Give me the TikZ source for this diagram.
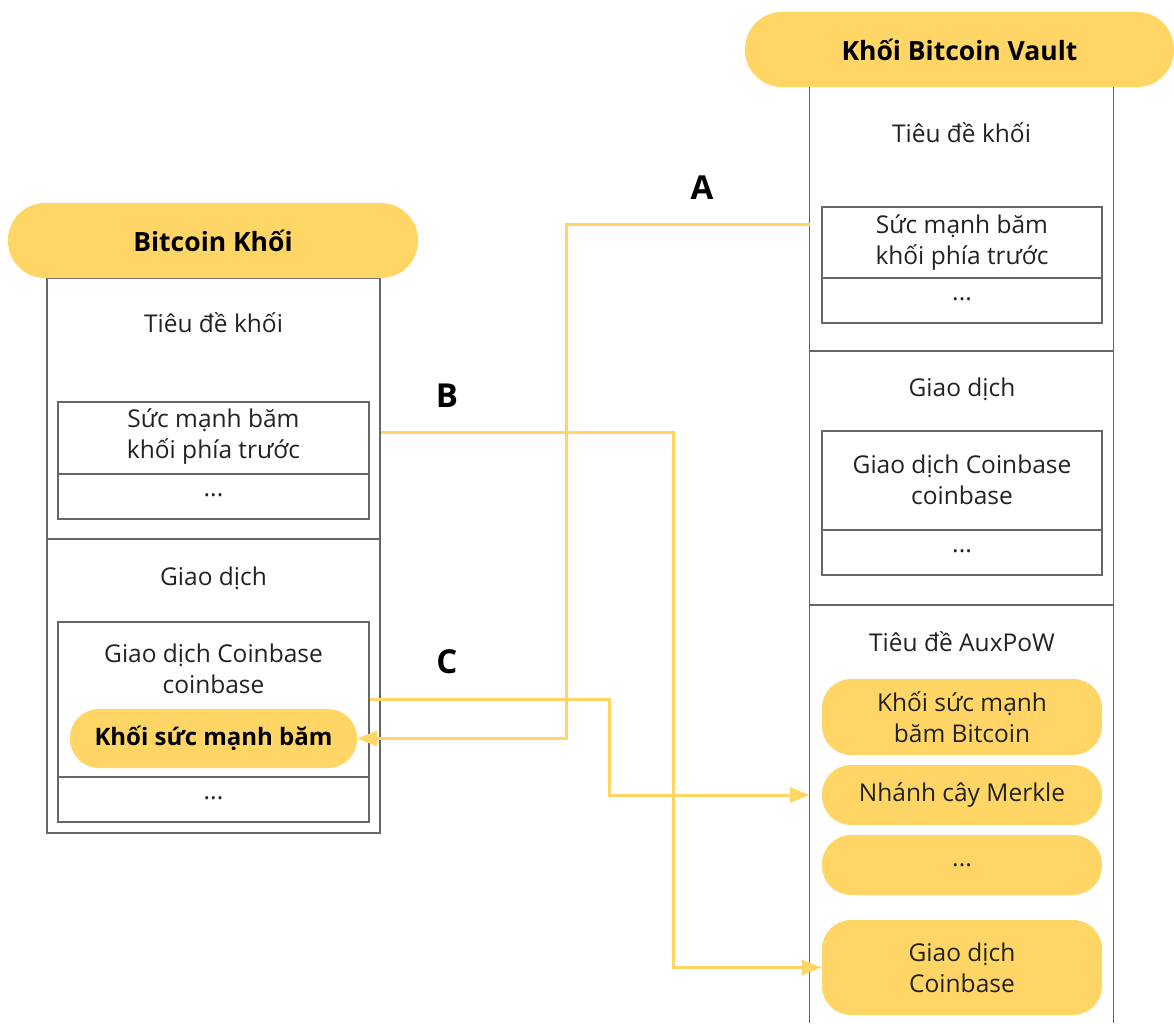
\documentclass[tikz,border=0pt]{standalone}
\usepackage{fontspec}
\setmainfont{Open Sans}
\usetikzlibrary{arrows.meta,calc}
\definecolor{gold}{HTML}{FFD666}
\definecolor{frame}{HTML}{666666}
\definecolor{txt}{HTML}{222222}
\begin{document}
\begin{tikzpicture}[x=1pt,y=1pt,
  titlepill/.style={fill=gold,rounded corners=37pt,inner sep=0pt,font=\fontsize{26.5}{30}\selectfont\bfseries,text=black},
  outerbox/.style={draw=frame,line width=1.2pt,inner sep=0pt},
  innerbox/.style={draw=frame,line width=1.2pt,inner sep=0pt},
  lbl/.style={font=\fontsize{24.5}{31}\selectfont,text=txt,align=center},
  pill/.style={fill=gold,rounded corners=29pt,inner sep=0pt,font=\fontsize{24.5}{31}\selectfont,text=txt,align=center},
  conn/.style={draw=gold,line width=3pt},
  tip/.style={-{Triangle[length=20pt,width=15pt]}},
  letter/.style={font=\fontsize{33}{36}\selectfont\bfseries,text=black}
]
\useasboundingbox (0,0) rectangle (1174,-1023);

% ---------- left block ----------
\node[outerbox,minimum width=333,minimum height=555] (lbody) at (213.5,-555.5) {};
\draw[draw=frame,line width=1.2pt] (lbody.west |- 0,-539) -- (lbody.east |- 0,-539);
\node[titlepill,minimum width=410,minimum height=75] (ltitle) at (213,-240.5) {Bitcoin Khối};
\node[lbl] (lhead) at (213.5,-323) {Tiêu đề khối};
\node[innerbox,minimum width=311,minimum height=117] (lprev) at (213.5,-460.5) {};
\draw[draw=frame,line width=1.2pt] (lprev.west |- 0,-474) -- (lprev.east |- 0,-474);
\node[lbl] (lprevtxt) at (213.5,-437) {Sức mạnh băm\\ khối phía trước};
\node[lbl] (lprevdots) at (213.5,-495) {...};
\node[lbl] (ltx) at (213.5,-578) {Giao dịch};
\node[innerbox,minimum width=311,minimum height=200] (lcb) at (213.5,-722) {};
\draw[draw=frame,line width=1.2pt] (lcb.west |- 0,-777) -- (lcb.east |- 0,-777);
\node[lbl] (lcbtxt) at (213.5,-669) {Giao dịch Coinbase\\coinbase};
\node[pill,minimum width=287,minimum height=59,font=\fontsize{24}{26}\selectfont\bfseries,text=black] (lhash) at (213.5,-738.5) {Khối sức mạnh băm};
\node[lbl] (lcbdots) at (213.5,-798) {...};

% ---------- right block ----------
\node[minimum width=303,minimum height=936,inner sep=0pt] (rbody) at (961.5,-555) {};
\draw[draw=frame,line width=1.2pt] (rbody.south west) -- (rbody.north west) -- (rbody.north east) -- (rbody.south east);
\draw[draw=frame,line width=1.2pt] (rbody.west |- 0,-351) -- (rbody.east |- 0,-351);
\draw[draw=frame,line width=1.2pt] (rbody.west |- 0,-605) -- (rbody.east |- 0,-605);
\node[titlepill,minimum width=429,minimum height=75] (rtitle) at (959.5,-49.5) {Khối Bitcoin Vault};
\node[lbl] (rhead) at (961.5,-133) {Tiêu đề khối};
\node[innerbox,minimum width=280,minimum height=116] (rprev) at (962,-265) {};
\draw[draw=frame,line width=1.2pt] (rprev.west |- 0,-278) -- (rprev.east |- 0,-278);
\node[lbl] (rprevtxt) at (962,-243) {Sức mạnh băm\\ khối phía trước};
\node[lbl] (rprevdots) at (962,-299) {...};
\node[lbl] (rtx) at (962,-389) {Giao dịch};
\node[innerbox,minimum width=280,minimum height=144] (rcb) at (962,-503) {};
\draw[draw=frame,line width=1.2pt] (rcb.west |- 0,-530) -- (rcb.east |- 0,-530);
\node[lbl] (rcbtxt) at (962,-480) {Giao dịch Coinbase\\coinbase};
\node[lbl] (rcbdots) at (962,-551) {...};
\node[lbl] (raux) at (962,-642) {Tiêu đề AuxPoW};
\node[pill,minimum width=280,minimum height=76] (rbtc) at (962,-717) {Khối sức mạnh\\băm Bitcoin};
\node[pill,minimum width=280,minimum height=60] (rmerkle) at (962,-795) {Nhánh cây Merkle};
\node[pill,minimum width=280,minimum height=60] (rdots) at (962,-865) {...};
\node[pill,minimum width=280,minimum height=95] (rcoin) at (962,-967.5) {Giao dịch\\Coinbase};

% ---------- connectors ----------
\draw[conn,tip] (rbody.west |- 0,-224) -- (566,-224) |- (lhash.east);
\draw[conn,tip] (lbody.east |- 0,-432) -- (673,-432) |- (rcoin.west);
\draw[conn,tip] (lcb.east |- 0,-699) -- (609,-699) |- (rbody.west |- rmerkle.west);

\node[letter] (la) at (702,-188) {A};
\node[letter] (lb) at (447,-396) {B};
\node[letter] (lc) at (447,-662) {C};
\end{tikzpicture}
\end{document}
